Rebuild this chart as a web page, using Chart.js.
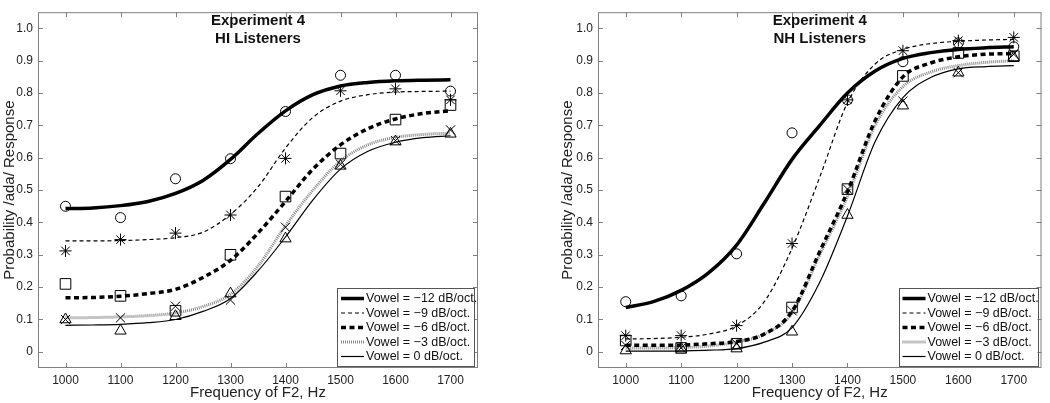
<!DOCTYPE html>
<html>
<head>
    <title>Experiment 4</title>
    <script src="https://cdn.jsdelivr.net/npm/chart.js"></script>
    <style>
        * {
            margin: 0;
            padding: 0;
            box-sizing: border-box;
        }

        body {
            background-color: white;
            width: 1050px;
            height: 403px;
            overflow: hidden;
        }

        .wrap {
            display: flex;
        }

        .panel {
            width: 525px;
            height: 403px;
        }
    </style>
</head>
<body>
    <div class="wrap">
        <div class="panel"><canvas id="hiChart" width="525" height="403"></canvas></div>
        <div class="panel"><canvas id="nhChart" width="525" height="403"></canvas></div>
    </div>

    <script>
        // measured frequencies and axis ticks
        const freqs = [1000, 1100, 1200, 1300, 1400, 1500, 1600, 1700];
        const xTicks = [1000, 1100, 1200, 1300, 1400, 1500, 1600, 1700];
        const yTicks = [0, 0.1, 0.2, 0.3, 0.4, 0.5, 0.6, 0.7, 0.8, 0.9, 1.0];
        const yTickLabels = ['0', '0.1', '0.2', '0.3', '0.4', '0.5', '0.6', '0.7', '0.8', '0.9', '1.0'];
        const vowelLabels = ['Vowel = \u221212 dB/oct.', 'Vowel = \u22129 dB/oct.', 'Vowel = \u22126 dB/oct.',
            'Vowel = \u22123 dB/oct.', 'Vowel = 0 dB/oct.'];

        const fitFreqs = [1000, 1050, 1100, 1150, 1200, 1250, 1300, 1350, 1400, 1450, 1500, 1550, 1600, 1650, 1700];

        // HI listeners, observed
        const hiObsM12 = [0.45, 0.415, 0.535, 0.597, 0.743, 0.855, 0.855, 0.806];
        const hiObsM9 = [0.312, 0.347, 0.367, 0.423, 0.598, 0.807, 0.813, 0.779];
        const hiObsM6 = [0.21, 0.173, 0.127, 0.30, 0.48, 0.613, 0.718, 0.763];
        const hiObsM3 = [0.10, 0.105, 0.141, 0.16, 0.385, 0.58, 0.653, 0.686];
        const hiObs0 = [0.10, 0.065, 0.11, 0.18, 0.35, 0.575, 0.65, 0.674];

        // HI listeners, fitted
        const hiFitM12 = [0.443, 0.445, 0.452, 0.465, 0.49, 0.53, 0.595, 0.675, 0.745, 0.795, 0.822, 0.833, 0.838, 0.84, 0.841];
        const hiFitM9 = [0.343, 0.343, 0.344, 0.347, 0.353, 0.37, 0.425, 0.51, 0.63, 0.725, 0.775, 0.795, 0.803, 0.805, 0.806];
        const hiFitM6 = [0.167, 0.168, 0.172, 0.18, 0.193, 0.23, 0.283, 0.367, 0.465, 0.565, 0.64, 0.69, 0.72, 0.737, 0.745];
        const hiFitM3 = [0.105, 0.106, 0.108, 0.112, 0.12, 0.14, 0.178, 0.265, 0.39, 0.50, 0.59, 0.64, 0.663, 0.672, 0.676];
        const hiFit0 = [0.082, 0.083, 0.085, 0.09, 0.10, 0.125, 0.165, 0.25, 0.355, 0.47, 0.565, 0.62, 0.648, 0.662, 0.668];

        // NH listeners, observed
        const nhObsM12 = [0.155, 0.173, 0.303, 0.677, 0.779, 0.897, 0.955, 0.943];
        const nhObsM9 = [0.05, 0.05, 0.081, 0.335, 0.779, 0.931, 0.962, 0.972];
        const nhObsM6 = [0.035, 0.012, 0.025, 0.137, 0.503, 0.853, 0.924, 0.914];
        const nhObsM3 = [0.02, 0.012, 0.025, 0.127, 0.503, 0.775, 0.863, 0.92];
        const nhObs0 = [0.004, 0.01, 0.01, 0.062, 0.423, 0.761, 0.863, 0.91];

        // NH listeners, fitted
        const nhFitM12 = [0.137, 0.155, 0.19, 0.245, 0.33, 0.46, 0.595, 0.70, 0.80, 0.868, 0.907, 0.925, 0.935, 0.94, 0.943];
        const nhFitM9 = [0.04, 0.041, 0.045, 0.055, 0.08, 0.155, 0.32, 0.54, 0.77, 0.89, 0.935, 0.953, 0.96, 0.964, 0.966];
        const nhFitM6 = [0.02, 0.02, 0.021, 0.025, 0.032, 0.055, 0.125, 0.31, 0.495, 0.715, 0.85, 0.893, 0.912, 0.92, 0.922];
        const nhFitM3 = [0.012, 0.012, 0.013, 0.018, 0.03, 0.055, 0.12, 0.30, 0.48, 0.70, 0.82, 0.865, 0.885, 0.895, 0.90];
        const nhFit0 = [0.002, 0.002, 0.003, 0.005, 0.01, 0.03, 0.075, 0.215, 0.42, 0.65, 0.786, 0.848, 0.875, 0.882, 0.885];

        const fontFamily = "'Liberation Sans', Arial, sans-serif";

        const styles = [
            { width: 3.5, dash: [], color: '#000', point: 'circle', radius: 5 },
            { width: 1.2, dash: [4, 3], color: '#000', point: 'star', radius: 6 },
            { width: 3.5, dash: [5, 3.5], color: '#000', point: 'rect', radius: 7.5 },
            { width: 3, dash: [1, 1], color: '#888', point: 'crossRot', radius: 6.5 },
            { width: 1.2, dash: [], color: '#000', point: 'triangle', radius: 6.5 }
        ];

        // frame with inward ticks, panel title and legend box
        const framePlugin = {
            id: 'frame',
            afterDatasetsDraw(chart, args, opts) {
                const { ctx, chartArea: a, scales: { x, y } } = chart;
                ctx.save();
                ctx.strokeStyle = '#808080';
                ctx.lineWidth = 1;
                ctx.setLineDash([]);
                ctx.strokeRect(a.left + 0.5, a.top + 0.5, a.width - 1, a.height - 1);
                ctx.beginPath();
                xTicks.forEach(v => {
                    const px = Math.round(x.getPixelForValue(v)) + 0.5;
                    ctx.moveTo(px, a.bottom);
                    ctx.lineTo(px, a.bottom - 5);
                    ctx.moveTo(px, a.top);
                    ctx.lineTo(px, a.top + 5);
                });
                yTicks.forEach(v => {
                    const py = Math.round(y.getPixelForValue(v)) + 0.5;
                    ctx.moveTo(a.left, py);
                    ctx.lineTo(a.left + 5, py);
                    ctx.moveTo(a.right, py);
                    ctx.lineTo(a.right - 5, py);
                });
                ctx.stroke();

                // title
                const cx = (a.left + a.right) / 2;
                ctx.fillStyle = '#111';
                ctx.font = 'bold 15px ' + fontFamily;
                ctx.textAlign = 'center';
                ctx.textBaseline = 'middle';
                opts.title.forEach((t, i) => ctx.fillText(t, cx, a.top + 9 + i * 17.7));

                // legend
                const bw = opts.legendWidth, bh = 78;
                const bx = a.right - 4 - bw, by = a.bottom - 2 - bh;
                ctx.fillStyle = 'white';
                ctx.fillRect(bx, by, bw, bh);
                ctx.strokeStyle = '#555';
                ctx.lineWidth = 1;
                ctx.strokeRect(Math.round(bx) + 0.5, Math.round(by) + 0.5, bw, bh);
                ctx.font = '12.5px ' + fontFamily;
                ctx.textAlign = 'left';
                styles.forEach((s, i) => {
                    const ry = by + 10.5 + i * 14.5;
                    ctx.beginPath();
                    ctx.strokeStyle = s.color;
                    ctx.lineWidth = s.width;
                    ctx.setLineDash(s.dash);
                    ctx.moveTo(bx + 4, ry);
                    ctx.lineTo(bx + 27, ry);
                    ctx.stroke();
                    ctx.fillStyle = '#111';
                    ctx.fillText(vowelLabels[i], bx + 29, ry + 0.5);
                });
                ctx.restore();
            }
        };

        function makeChart(id, obs, fits, title, padLeft, padRight, yWidth, legendWidth) {
            const datasets = [];
            obs.forEach((o, i) => {
                datasets.push({
                    label: vowelLabels[i],
                    data: freqs.map((f, j) => ({ x: f, y: o[j] })),
                    showLine: false,
                    pointStyle: styles[i].point,
                    pointRadius: styles[i].radius,
                    pointBorderWidth: 1,
                    pointBorderColor: '#000',
                    pointBackgroundColor: 'rgba(0,0,0,0)'
                });
            });
            fits.forEach((c, i) => {
                datasets.push({
                    label: vowelLabels[i] + ' fit',
                    data: fitFreqs.map((f, j) => ({ x: f, y: c[j] })),
                    showLine: true,
                    pointRadius: 0,
                    borderColor: styles[i].color,
                    borderWidth: styles[i].width,
                    borderDash: styles[i].dash,
                    cubicInterpolationMode: 'monotone',
                    fill: false
                });
            });

            return new Chart(document.getElementById(id), {
                type: 'scatter',
                data: { datasets: datasets },
                options: {
                    responsive: false,
                    animation: false,
                    devicePixelRatio: 1,
                    events: [],
                    layout: { padding: { left: padLeft, right: padRight, top: 12, bottom: 0 } },
                    scales: {
                        x: {
                            type: 'linear',
                            min: 950,
                            max: 1750,
                            afterBuildTicks(s) { s.ticks = xTicks.map(v => ({ value: v })); },
                            afterFit(s) { s.height = 35; },
                            grid: { display: false, drawTicks: false },
                            border: { display: false },
                            ticks: {
                                padding: 5,
                                color: '#222',
                                font: { size: 12, family: fontFamily },
                                callback: v => String(v)
                            },
                            title: {
                                display: true,
                                text: 'Frequency of F2, Hz',
                                color: '#222',
                                font: { size: 15, family: fontFamily },
                                padding: { top: 0, bottom: 1 }
                            }
                        },
                        y: {
                            type: 'linear',
                            min: -0.05,
                            max: 1.05,
                            afterBuildTicks(s) { s.ticks = yTicks.map(v => ({ value: v })); },
                            afterFit(s) { s.width = yWidth; },
                            grid: { display: false, drawTicks: false },
                            border: { display: false },
                            ticks: {
                                padding: 5,
                                color: '#222',
                                font: { size: 12, family: fontFamily },
                                callback: (v, i) => yTickLabels[i]
                            },
                            title: {
                                display: true,
                                text: 'Probability /ada/ Response',
                                color: '#222',
                                font: { size: 15, family: fontFamily },
                                padding: { top: 1, bottom: 0 }
                            }
                        }
                    },
                    plugins: {
                        legend: { display: false },
                        tooltip: { enabled: false },
                        frame: { title: title, legendWidth: legendWidth }
                    }
                },
                plugins: [framePlugin]
            });
        }

        makeChart('hiChart',
            [hiObsM12, hiObsM9, hiObsM6, hiObsM3, hiObs0],
            [hiFitM12, hiFitM9, hiFitM6, hiFitM3, hiFit0],
            ['Experiment 4', 'HI Listeners'], 0, 47, 38, 137);

        makeChart('nhChart',
            [nhObsM12, nhObsM9, nhObsM6, nhObsM3, nhObs0],
            [nhFitM12, nhFitM9, nhFitM6, nhFitM3, nhFit0],
            ['Experiment 4', 'NH Listeners'], 33, 8, 40, 139);
    </script>
</body>
</html>
